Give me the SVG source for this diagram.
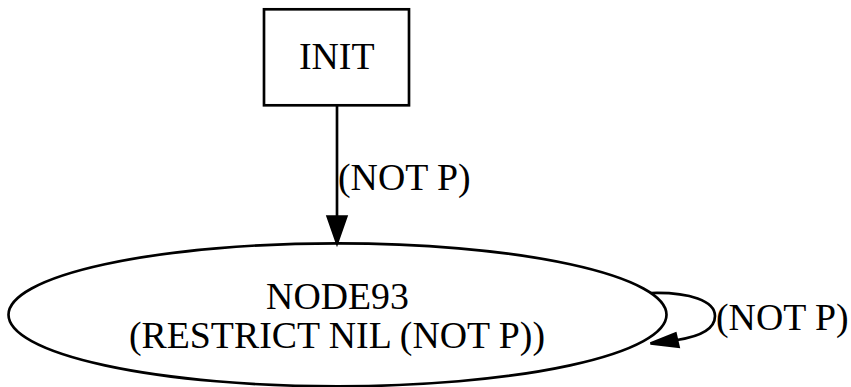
<svg xmlns="http://www.w3.org/2000/svg" width="851" height="387" viewBox="0 0 851 387">
  <style>
    .shape { fill: none; stroke: #000; stroke-width: 2.67; }
    .edge { fill: none; stroke: #000; stroke-width: 2.67; }
    .head { fill: #000; stroke: #000; stroke-width: 2.67; stroke-linejoin: miter; }
    text { font-family: "Liberation Serif", "Times New Roman", serif; font-size: 37.8px; fill: #000; }
    .c { text-anchor: middle; }
  </style>
  <rect width="851" height="387" fill="#fff"/>

  <g id="node-init">
    <rect class="shape" x="264" y="9.3" width="145" height="96"/>
    <text class="c" x="336.7" y="69">INIT</text>
  </g>

  <g id="node-node93">
    <ellipse class="shape" cx="337.5" cy="314.8" rx="329" ry="71.5"/>
    <text class="c" x="337.5" y="309">NODE93</text>
    <text class="c" x="337" y="348">(RESTRICT NIL (NOT P))</text>
  </g>

  <g id="edges">
    <!-- INIT to NODE93 -->
    <path class="edge" d="M337,105.3 L337,216"/>
    <polygon class="head" points="327.7,216.6 337,243.3 346.3,216.6"/>
    <text x="338" y="190">(NOT P)</text>

    <!-- NODE93 self loop -->
    <path class="edge" d="M651,293 C690,292 715,301 715,316 C715,328 703,336 677,340"/>
    <polygon class="head" points="675.5,333.6 650.5,343.5 678.5,346.6"/>
    <text x="716" y="330">(NOT P)</text>
  </g>
</svg>
